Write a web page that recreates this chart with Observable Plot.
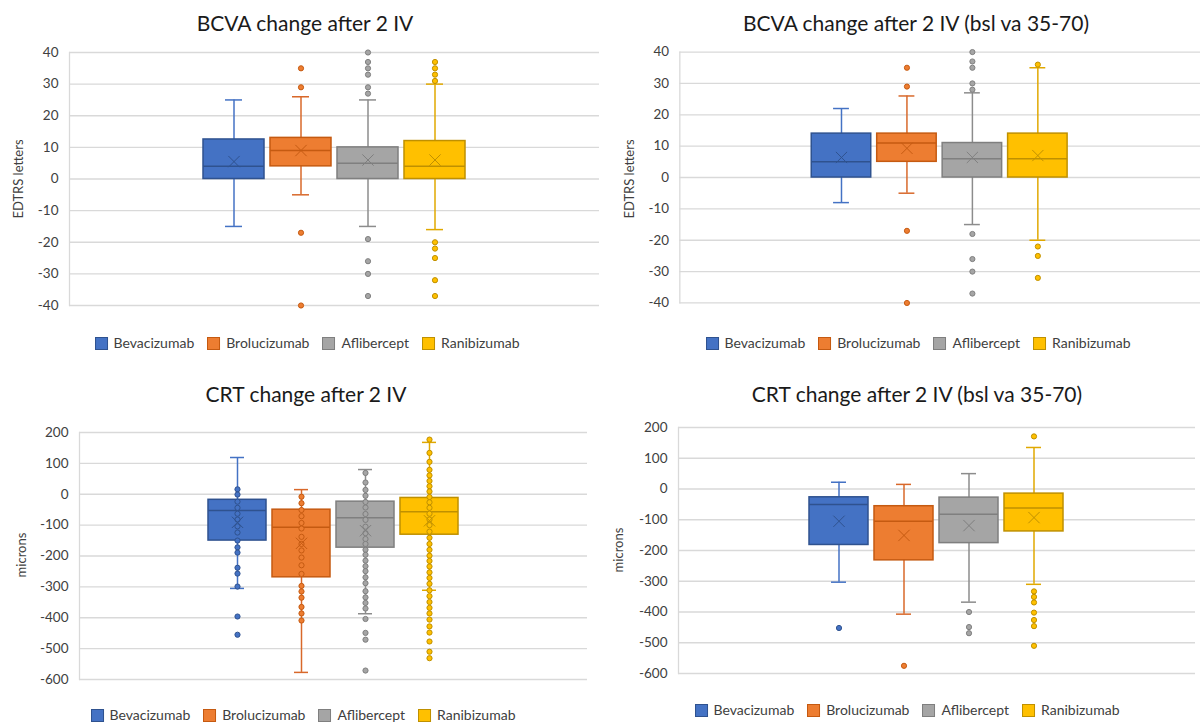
<!DOCTYPE html>
<html><head><meta charset="utf-8">
<script src="https://cdn.jsdelivr.net/npm/d3@7"></script>
<script src="https://cdn.jsdelivr.net/npm/@observablehq/plot@0.6"></script>
<style>
html,body{margin:0;padding:0;background:#fff;}
body{width:1200px;height:722px;overflow:hidden;position:relative;font-family:Lato,"Open Sans",sans-serif;}
.panel{position:absolute;}
.title{position:absolute;transform:translate(-50%,-50%);white-space:nowrap;font-size:21px;line-height:1;color:#1a1a1a;}
.ylab{position:absolute;transform:translate(-50%,-50%) rotate(-90deg);white-space:nowrap;font-size:13px;line-height:1;color:#404040;}
.legend{position:absolute;transform:translate(-50%,-50%);display:flex;align-items:center;white-space:nowrap;font-size:14px;line-height:1;color:#404040;}
.legend .item{display:flex;align-items:center;margin:0 6.5px;}
.legend .sw{width:13px;height:13px;margin-right:6px;box-sizing:border-box;border:1px solid;}
</style></head><body>
<script>
// ---------- data ----------
const series = ["Bevacizumab", "Brolucizumab", "Aflibercept", "Ranibizumab"];
const fills = ["#4472C4", "#ED7D31", "#A5A5A5", "#FFC000"];
const strokes = ["#2F528F", "#C55A11", "#7F7F7F", "#BF9000"];
const whiskerColors = ["#4472C4", "#D8682A", "#8C8C8C", "#E0A800"];

const bcvaTicks = [-40, -30, -20, -10, 0, 10, 20, 30, 40];
const crtTicks = [-600, -500, -400, -300, -200, -100, 0, 100, 200];

// BCVA change after 2 IV
const bcvaAllLow = [-15, -5, -15, -16];
const bcvaAllQ1 = [0, 4, 0, 0];
const bcvaAllMedian = [4, 9, 5, 4];
const bcvaAllQ3 = [12.5, 13, 10, 12];
const bcvaAllHigh = [25, 26, 25, 30];
const bcvaAllMean = [5.5, 9, 6, 6];
const bcvaAllPoints = [
  [],
  [35, 29, -17, -40],
  [40, 37, 35, 33, 29, 27, -19, -26, -30, -37],
  [37, 35, 33, 31, -20, -22, -25, -32, -37]
];

// BCVA change after 2 IV (bsl va 35-70)
const bcvaBslLow = [-8, -5, -15, -20];
const bcvaBslQ1 = [0, 5, 0, 0];
const bcvaBslMedian = [5, 11, 6, 6];
const bcvaBslQ3 = [14, 14, 11, 14];
const bcvaBslHigh = [22, 26, 27, 35];
const bcvaBslMean = [6.4, 9.3, 6.4, 7];
const bcvaBslPoints = [
  [],
  [35, 29, -17, -40],
  [40, 37, 35, 30, 28, -18, -26, -30, -37],
  [36, -22, -25, -32]
];

// CRT change after 2 IV
const crtAllLow = [-305, -577, -387, -311];
const crtAllQ1 = [-150, -269, -173, -131];
const crtAllMedian = [-53, -107, -76, -57];
const crtAllQ3 = [-18, -50, -24, -12];
const crtAllHigh = [119, 15, 80, 168];
const crtAllMean = [-91, -159, -118, -86];
const crtAllPoints = [
  [16, -1, -24, -44, -63, -82, -104, -124, -150, -172, -189, -238, -257, -299, -396, -455],
  [-8, -29, -51, -71, -93, -111, -138, -161, -182, -205, -230, -258, -297, -315, -335, -365, -386, -409],
  [69, 38, 14, -5, -25, -43, -64, -83, -105, -126, -145, -161, -180, -196, -215, -233, -249, -269, -288, -314, -334, -352, -370, -404, -449, -471, -571],
  [177, 134, 105, 79, 61, 43, 26, 9, -9, -26, -44, -63, -82, -100, -121, -141, -161, -180, -199, -216, -234, -253, -271, -290, -311, -330, -349, -368, -386, -406, -428, -448, -477, -510, -531]
];

// CRT change after 2 IV (bsl va 35-70)
const crtBslLow = [-303, -407, -368, -310];
const crtBslQ1 = [-182, -232, -176, -138];
const crtBslMedian = [-50, -105, -82, -62];
const crtBslQ3 = [-27, -56, -28, -15];
const crtBslHigh = [22, 15, 50, 135];
const crtBslMean = [-105, -151, -119, -93];
const crtBslPoints = [
  [-452],
  [-575],
  [-400, -449, -469],
  [171, -333, -351, -369, -402, -426, -446, -510]
];

// ---------- drawing ----------
function panel(cfg) {
  const stats = series.map((s, i) => ({
    series: s, i,
    low: cfg.low[i], q1: cfg.q1[i], median: cfg.median[i],
    q3: cfg.q3[i], high: cfg.high[i], mean: cfg.mean[i]
  }));
  const pts = cfg.points.flatMap((arr, i) => arr.map(v => ({series: series[i], i, value: v})));

  const svg = Plot.plot({
    width: cfg.width, height: cfg.height,
    marginTop: cfg.mt, marginBottom: cfg.mb, marginLeft: cfg.ml, marginRight: cfg.mr,
    style: {fontFamily: "Lato, 'Open Sans', sans-serif", fontSize: "13.5px", color: "#404040", background: "transparent", overflow: "visible"},
    x: {type: "band", domain: series, paddingInner: 0.09, paddingOuter: 2, axis: null},
    y: {domain: cfg.domain, ticks: cfg.ticks, tickSize: 0, tickPadding: 11, label: null, tickFormat: d => `${d}`},
    color: {type: "identity"},
    marks: [
      Plot.gridY(cfg.ticks, {stroke: "#d9d9d9", strokeOpacity: 1, strokeWidth: 1.3}),
      Plot.frame({anchor: "left", stroke: "#d9d9d9", strokeWidth: 1.3}),
      Plot.ruleX(stats, {x: "series", y1: "low", y2: "high", stroke: d => whiskerColors[d.i], strokeWidth: 1.5}),
      Plot.tickY(stats, {x: "series", y: "low", insetLeft: 22, insetRight: 22, stroke: d => whiskerColors[d.i], strokeWidth: 1.5}),
      Plot.tickY(stats, {x: "series", y: "high", insetLeft: 22, insetRight: 22, stroke: d => whiskerColors[d.i], strokeWidth: 1.5}),
      Plot.barY(stats, {x: "series", y1: "q1", y2: "q3", fill: d => fills[d.i], stroke: d => strokes[d.i], strokeWidth: 1.5}),
      Plot.tickY(stats, {x: "series", y: "median", stroke: d => strokes[d.i], strokeWidth: 1.5}),
      Plot.dot(pts, {x: "series", y: "value", r: 2.6, fill: d => fills[d.i], stroke: d => strokes[d.i], strokeWidth: 1}),
      Plot.dot(stats, {x: "series", y: "mean", symbol: "times", r: 5.2, stroke: d => strokes[d.i], strokeWidth: 1})
    ]
  });
  const wrap = document.createElement("div");
  wrap.className = "panel";
  wrap.style.left = cfg.left + "px";
  wrap.style.top = cfg.top + "px";
  wrap.appendChild(svg);
  document.body.appendChild(wrap);

  const t = document.createElement("div");
  t.className = "title";
  t.textContent = cfg.title;
  t.style.left = cfg.titleX + "px"; t.style.top = cfg.titleY + "px";
  document.body.appendChild(t);

  const yl = document.createElement("div");
  yl.className = "ylab";
  yl.textContent = cfg.ylabel;
  yl.style.left = cfg.ylabX + "px"; yl.style.top = cfg.ylabY + "px";
  document.body.appendChild(yl);

  const lg = document.createElement("div");
  lg.className = "legend";
  lg.style.left = cfg.legX + "px"; lg.style.top = cfg.legY + "px";
  series.forEach((s, i) => {
    const it = document.createElement("div"); it.className = "item";
    const sw = document.createElement("div"); sw.className = "sw";
    sw.style.background = fills[i]; sw.style.borderColor = strokes[i];
    const tx = document.createElement("span"); tx.textContent = s;
    it.appendChild(sw); it.appendChild(tx); lg.appendChild(it);
  });
  document.body.appendChild(lg);
}

panel({
  title: "BCVA change after 2 IV", ylabel: "EDTRS letters",
  low: bcvaAllLow, q1: bcvaAllQ1, median: bcvaAllMedian, q3: bcvaAllQ3, high: bcvaAllHigh, mean: bcvaAllMean, points: bcvaAllPoints,
  domain: [-40, 40], ticks: bcvaTicks,
  left: 0, top: 0, width: 600, height: 330, mt: 52, mb: 25, ml: 69, mr: 1,
  titleX: 305, titleY: 22, ylabX: 18, ylabY: 179, legX: 307, legY: 343
});
panel({
  title: "BCVA change after 2 IV (bsl va 35-70)", ylabel: "EDTRS letters",
  low: bcvaBslLow, q1: bcvaBslQ1, median: bcvaBslMedian, q3: bcvaBslQ3, high: bcvaBslHigh, mean: bcvaBslMean, points: bcvaBslPoints,
  domain: [-40, 40], ticks: bcvaTicks,
  left: 600, top: 0, width: 605, height: 330, mt: 52, mb: 25, ml: 80, mr: 0,
  titleX: 916, titleY: 22, ylabX: 629, ylabY: 179, legX: 918, legY: 343
});
panel({
  title: "CRT change after 2 IV", ylabel: "microns",
  low: crtAllLow, q1: crtAllQ1, median: crtAllMedian, q3: crtAllQ3, high: crtAllHigh, mean: crtAllMean, points: crtAllPoints,
  domain: [-600, 200], ticks: crtTicks,
  left: 0, top: 370, width: 600, height: 352, mt: 62, mb: 43, ml: 79, mr: 13,
  titleX: 306, titleY: 393, ylabX: 21, ylabY: 555, legX: 303, legY: 715
});
panel({
  title: "CRT change after 2 IV (bsl va 35-70)", ylabel: "microns",
  low: crtBslLow, q1: crtBslQ1, median: crtBslMedian, q3: crtBslQ3, high: crtBslHigh, mean: crtBslMean, points: crtBslPoints,
  domain: [-600, 200], ticks: crtTicks,
  left: 600, top: 370, width: 600, height: 352, mt: 57, mb: 49, ml: 78, mr: 5,
  titleX: 917, titleY: 393, ylabX: 618, ylabY: 550, legX: 907, legY: 710
});
</script>
</body></html>
